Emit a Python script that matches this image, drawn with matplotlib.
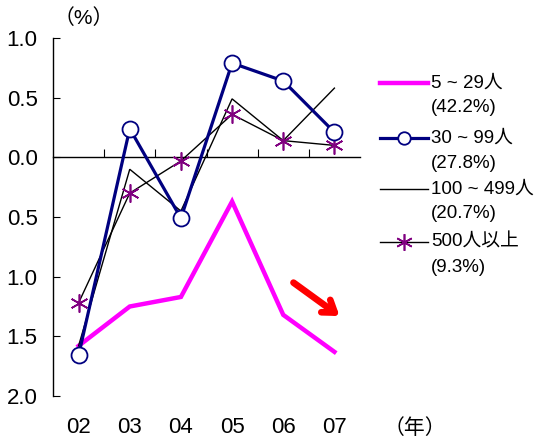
import matplotlib
matplotlib.use("Agg")
import matplotlib.pyplot as plt
from matplotlib.lines import Line2D

plt.rcParams['font.family'] = ['Liberation Sans', 'Noto Sans CJK JP', 'DejaVu Sans']

years = ["02", "03", "04", "05", "06", "07"]
size_5_29 = [-1.58, -1.25, -1.17, -0.37, -1.32, -1.63]
size_30_99 = [-1.66, 0.24, -0.51, 0.79, 0.64, 0.21]
size_100_499 = [-1.58, -0.10, -0.45, 0.49, 0.14, 0.58]
size_500_plus = [-1.22, -0.30, -0.03, 0.36, 0.14, 0.10]

labels = ["5 ~ 29人", "30 ~ 99人", "100 ~ 499人", "500人以上"]
shares = ["(42.2%)", "(27.8%)", "(20.7%)", "(9.3%)"]
ytick_vals = [1.0, 0.5, 0.0, -0.5, -1.0, -1.5, -2.0]
ytick_text = ["1.0", "0.5", "0.0", "0.5", "1.0", "1.5", "2.0"]

W, H = 539, 441
fig = plt.figure(figsize=(W / 100, H / 100), dpi=100)
ax = fig.add_axes([53 / W, 1 - 396 / H, (360 - 53) / W, (396 - 38) / H])

x = list(range(len(years)))
star = (6, 2, 0)
line_styles = [
    dict(color="#FF00FF", lw=3.2),
    dict(color="#000080", lw=2.3),
    dict(color="black", lw=1.0),
    dict(color="black", lw=1.0),
]
marker_styles = [
    None,
    dict(marker="o", ms=11.5, mfc="white", mec="#000080", mew=1.3),
    None,
    dict(marker=star, ms=13, mec="#800080", mfc="#800080", mew=1.2),
]
legend_marker_size = [None, 9, None, 12]
zorders = [3, 4, 3, 3]
series = [size_5_29, size_30_99, size_100_499, size_500_plus]
for vals, ls, ms, z in zip(series, line_styles, marker_styles, zorders):
    ax.plot(x, vals, solid_joinstyle="miter", zorder=z, **ls, **(ms or {}))

ax.set_xlim(-0.5, 5.5)
ax.set_ylim(-2.0, 1.0)
for s in ("top", "right"):
    ax.spines[s].set_visible(False)
ax.spines["bottom"].set_position(("data", 0))
ax.spines["left"].set_linewidth(1.0)
ax.spines["bottom"].set_linewidth(1.0)
ax.set_yticks(ytick_vals)
ax.set_yticklabels(ytick_text, fontsize=16)
ax.tick_params(axis="y", direction="in", length=5, pad=11)
ax.set_xticks([0.5, 1.5, 2.5, 3.5, 4.5])
ax.set_xticklabels([])
ax.tick_params(axis="x", direction="in", length=6)

for i, yr in enumerate(years):
    ax.text(i, -0.089, yr, transform=ax.get_xaxis_transform(), ha="center", va="center", fontsize=16)
ax.text(1.18, -0.089, "（年）", transform=ax.transAxes, ha="center", va="center", fontsize=15)
ax.text(0.1, 1.055, "（%）", transform=ax.transAxes, ha="center", va="center", fontsize=15)

ax.annotate("", xy=(5.1, -1.33), xytext=(4.2, -1.05),
            arrowprops=dict(arrowstyle="->,head_length=0.8,head_width=0.55", color="#FF0000", lw=4.8,
                            shrinkA=0, shrinkB=0))

# legend drawn manually with first line of each label aligned to its key
lax = fig.add_axes([0, 0, 1, 1], facecolor="none")
lax.set_xlim(0, W)
lax.set_ylim(H, 0)
lax.axis("off")
rows = [83, 138, 189, 242]
for yy, lab, sh, ls, ms, lms in zip(rows, labels, shares, line_styles, marker_styles, legend_marker_size):
    lax.add_line(Line2D([380, 428], [yy, yy], **ls))
    if ms:
        mk = dict(ms)
        mk["ms"] = lms
        lax.plot([404], [yy], linestyle="none", **mk)
    lax.text(431, yy, lab, ha="left", va="center", fontsize=13.5)
    lax.text(431, yy + 25, sh, ha="left", va="center", fontsize=13.5)

fig.savefig("out.png", dpi=100)
